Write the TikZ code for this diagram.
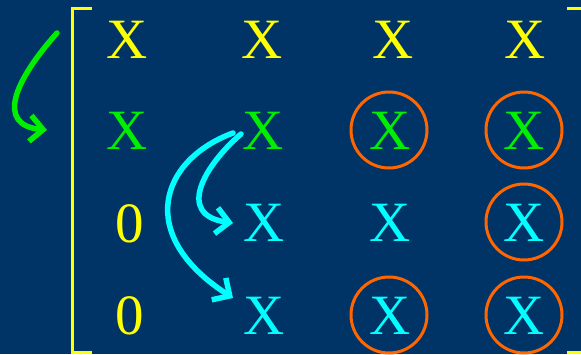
\documentclass[tikz,border=0pt]{standalone}
\usepackage{fontspec}
\setmainfont{Liberation Serif}
\usetikzlibrary{arrows.meta}
\definecolor{bg}{HTML}{003366}
\definecolor{yel}{HTML}{FFFF00}
\definecolor{grn}{HTML}{00EE00}
\definecolor{cyn}{HTML}{00FFFF}
\definecolor{org}{HTML}{FF6600}
\tikzset{
  ent/.style={font=\fontsize{57}{57}\selectfont, inner sep=0pt, anchor=center},
  ring/.style={draw=org, line width=3pt, circle, minimum size=76pt, inner sep=0pt},
  brk/.style={draw=yel, line width=3pt},
  arr/.style={line width=5.5pt, line cap=round, -{Straight Barb[length=13pt,width=26pt,line width=5.5pt]}}
}
\begin{document}
\begin{tikzpicture}[x=1pt,y=-1pt]
\useasboundingbox[fill=bg] (0,0) rectangle (581,354);
% brackets
\coordinate (lt) at (92,8);
\coordinate (lc1) at (72,8);
\coordinate (lc2) at (72,352);
\coordinate (lb) at (92,352);
\draw[brk] (lt) -- (lc1) -- (lc2) -- (lb);
\coordinate (rt) at (567,8);
\coordinate (rc1) at (584,8);
\coordinate (rc2) at (584,352);
\coordinate (rb) at (567,352);
\draw[brk] (rt) -- (rc1) -- (rc2) -- (rb);
% row 1
\node[ent, text=yel] (a11) at (127,40) {X};
\node[ent, text=yel] (a12) at (262,40) {X};
\node[ent, text=yel] (a13) at (393,40) {X};
\node[ent, text=yel] (a14) at (525,40) {X};
% row 2
\node[ent, text=grn] (a21) at (127,131) {X};
\node[ent, text=grn] (a22) at (263,131) {X};
\node[ent, text=grn] (a23) at (390,131) {X};
\node[ent, text=grn] (a24) at (524,131) {X};
% row 3
\node[ent, text=yel] (a31) at (130,224) {0};
\node[ent, text=cyn] (a32) at (264,223) {X};
\node[ent, text=cyn] (a33) at (390,223) {X};
\node[ent, text=cyn] (a34) at (524,223) {X};
% row 4
\node[ent, text=yel] (a41) at (130,316) {0};
\node[ent, text=cyn] (a42) at (264,316) {X};
\node[ent, text=cyn] (a43) at (390,316) {X};
\node[ent, text=cyn] (a44) at (524,316) {X};
% rings
\node[ring] (r23) at (389,130) {};
\node[ring] (r24) at (524,130) {};
\node[ring] (r34) at (524,222) {};
\node[ring] (r43) at (389,315) {};
\node[ring] (r44) at (524,315) {};
% arrows
\coordinate (gs) at (57,33);
\coordinate (ge) at (47,130);
\draw[arr, draw=grn] (gs) .. controls (15,80) and (-5,125) .. (ge);
\coordinate (c1s) at (241,134);
\coordinate (c1e) at (233,223);
\draw[arr, draw=cyn] (c1s) .. controls (205,165) and (175,215) .. (c1e);
\coordinate (c2s) at (233,133);
\coordinate (c2e) at (233,298);
\draw[arr, draw=cyn] (c2s) .. controls (160,160) and (135,235) .. (c2e);
\end{tikzpicture}
\end{document}
